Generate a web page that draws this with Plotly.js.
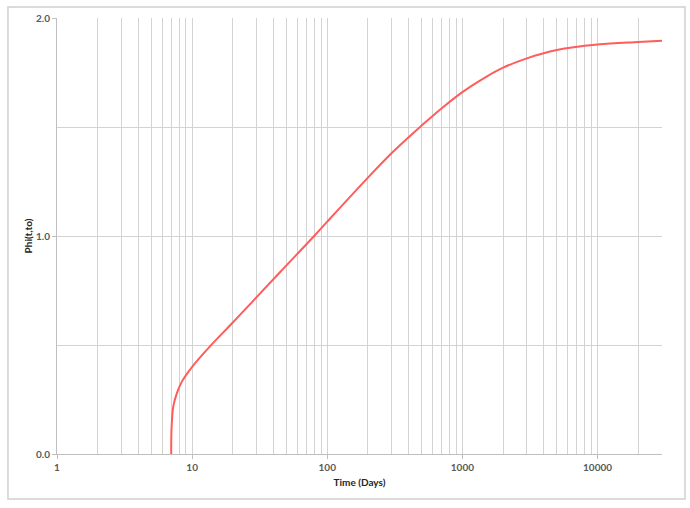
<!DOCTYPE html>
<html>
<head>
<meta charset="utf-8">
<script src="https://cdn.plot.ly/plotly-3.0.1.min.js"></script>
<style>
html,body{margin:0;padding:0;background:#fff;}
#chart{width:690px;height:508px;}
</style>
</head>
<body>
<div id="chart"></div>
<script>
// Data
const timeDays = [7, 7.01, 7.05, 7.25, 7.7, 8.4, 10, 13.6, 20, 28.5, 45, 80, 100, 200, 300, 400, 500, 700, 1000, 1500, 2000, 3000, 5000, 10000, 20000, 30000];
const phiValues = [0, 0.07, 0.125, 0.217, 0.278, 0.332, 0.40, 0.495, 0.603, 0.705, 0.836, 1.0, 1.066, 1.268, 1.381, 1.453, 1.507, 1.585, 1.66, 1.73, 1.772, 1.815, 1.853, 1.878, 1.89, 1.896];

const xTickVals = [1, 10, 100, 1000, 10000];
const xTickLabels = ['1', '10', '100', '1000', '10000'];
const xMinorVals = [2,3,4,5,6,7,8,9, 20,30,40,50,60,70,80,90, 200,300,400,500,600,700,800,900,
  2000,3000,4000,5000,6000,7000,8000,9000, 20000, 30000];
const yTickVals = [0, 1, 2];
const yTickLabels = ['0.0', '1.0', '2.0'];
const yMinorVals = [0.5, 1.5];

const gridCol = '#d3d3d3';
const labelFont = {family: 'Lato, "Open Sans", sans-serif', size: 10, color: '#595959', weight: 'bold'};

const trace = {
  x: timeDays,
  y: phiValues,
  type: 'scatter',
  mode: 'lines',
  line: {color: '#ff5c5c', width: 2, shape: 'spline', smoothing: 1},
  hoverinfo: 'x+y'
};

const layout = {
  width: 690,
  height: 508,
  margin: {l: 57, r: 28, t: 18, b: 54},
  paper_bgcolor: '#ffffff',
  plot_bgcolor: '#ffffff',
  showlegend: false,
  xaxis: {
    type: 'log',
    range: [0, Math.log10(30000)],
    tickmode: 'array',
    tickvals: xTickVals,
    ticktext: xTickLabels,
    ticks: 'outside',
    ticklen: 4,
    tickcolor: '#bfbfbf',
    tickfont: labelFont,
    showgrid: true,
    gridcolor: gridCol,
    gridwidth: 1,
    showline: true,
    linecolor: '#bfbfbf',
    linewidth: 1,
    zeroline: false,
    minor: {tickmode: 'array', tickvals: xMinorVals, showgrid: true, gridcolor: gridCol, gridwidth: 1, ticks: ''},
    title: {text: 'Time (Days)', font: {family: 'Lato, "Open Sans", sans-serif', size: 10, color: '#262626', weight: 'bold'}, standoff: 6},
    automargin: false
  },
  yaxis: {
    range: [0, 2],
    tickmode: 'array',
    tickvals: yTickVals,
    ticktext: yTickLabels,
    ticks: 'outside',
    ticklen: 4,
    tickcolor: '#bfbfbf',
    tickfont: labelFont,
    showgrid: true,
    gridcolor: gridCol,
    gridwidth: 1,
    showline: true,
    linecolor: '#bfbfbf',
    linewidth: 1,
    zeroline: false,
    minor: {tickmode: 'array', tickvals: yMinorVals, showgrid: true, gridcolor: gridCol, gridwidth: 1, ticks: ''},
    title: {text: 'Phi(t,to)', font: {family: 'Lato, "Open Sans", sans-serif', size: 10, color: '#262626', weight: 'bold'}, standoff: 1},
    automargin: false
  },
  shapes: [{
    type: 'rect', xref: 'paper', yref: 'paper',
    x0: -0.081, x1: 1.038, y0: -0.103, y1: 1.025,
    line: {color: '#d0d0d0', width: 1.5},
    fillcolor: 'rgba(0,0,0,0)',
    layer: 'below'
  }]
};

Plotly.newPlot('chart', [trace], layout, {displayModeBar: false, staticPlot: true});
</script>
</body>
</html>
